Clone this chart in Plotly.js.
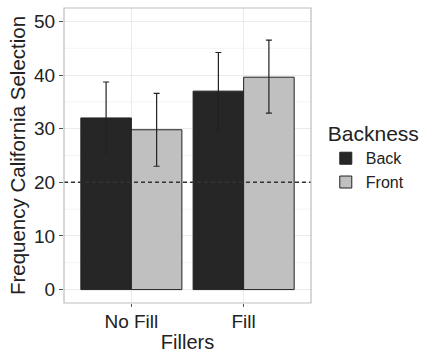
<!DOCTYPE html>
<html><head><meta charset="utf-8">
<script src="https://cdn.plot.ly/plotly-3.0.1.min.js"></script>
<style>html,body{margin:0;padding:0;background:#fff}#chart{width:422px;height:353px}</style>
</head><body><div id="chart"></div>
<script>
const categories = ["No Fill", "Fill"];
const backMeans = [32.0, 37.0];
const backUpper = [38.7, 44.2];
const backLower = [25.4, 29.8];
const frontMeans = [29.8, 39.6];
const frontUpper = [36.6, 46.5];
const frontLower = [23.0, 32.9];
const chanceLevel = 20;
const yTicks = [0, 10, 20, 30, 40, 50];

const font = "Liberation Sans, Arial, sans-serif";
function mkTrace(name, means, up, lo, color) {
  return {
    type: "bar", name: name, x: categories, y: means,
    marker: {color: color, line: {color: "#222", width: 1}},
    error_y: {type: "data", symmetric: false,
      array: means.map((m, i) => up[i] - m),
      arrayminus: means.map((m, i) => m - lo[i]),
      color: "#222", thickness: 1.2, width: 3}
  };
}
const data = [
  mkTrace("Back", backMeans, backUpper, backLower, "#262626"),
  mkTrace("Front", frontMeans, frontUpper, frontLower, "#c0c0c0")
];
const minorVals = [5, 15, 25, 35, 45];
const shapes = minorVals.map(v => ({type: "line", xref: "paper", x0: 0, x1: 1, yref: "y", y0: v, y1: v,
  line: {color: "#f3f3f3", width: 1}, layer: "below"}));
shapes.push({type: "line", xref: "paper", x0: 0, x1: 1, yref: "y", y0: chanceLevel, y1: chanceLevel,
  line: {color: "#333", width: 1.6, dash: "4px,3px"}, layer: "above"});
shapes.push({type: "rect", xref: "paper", yref: "paper", x0: 0, x1: 1, y0: 0, y1: 1,
  line: {color: "#bdbdbd", width: 1.2}});
const layout = {
  width: 422, height: 353,
  margin: {l: 64, r: 111, t: 8, b: 50},
  paper_bgcolor: "#fff", plot_bgcolor: "rgba(0,0,0,0)",
  barmode: "group", bargap: 0.1, bargroupgap: 0,
  font: {family: font, color: "#222", size: 19},
  xaxis: {range: [-0.6, 1.6], showgrid: true, gridcolor: "#ebebeb", zeroline: false,
    ticks: "outside", ticklen: 3, tickcolor: "#555", tickfont: {size: 19, color: "#222"},
    ticklabelstandoff: -2,
    title: {text: "Fillers", font: {size: 20}, standoff: 5}},
  yaxis: {range: [-2.5, 52.5], tickvals: yTicks, showgrid: true, gridcolor: "#ebebeb", zeroline: false,
    ticks: "outside", ticklen: 4, tickcolor: "#555", tickfont: {size: 19, color: "#222"},
    title: {text: "Frequency California Selection", font: {size: 20.5}, standoff: 2}},
  shapes: shapes,
  showlegend: true,
  legend: {xref: "container", yref: "container", x: 0.772, y: 0.677, xanchor: "left", yanchor: "top",
    title: {text: "Backness", font: {size: 21}},
    font: {size: 16}, itemwidth: 30, tracegroupgap: 0, bgcolor: "rgba(0,0,0,0)"}
};
Plotly.newPlot("chart", data, layout, {staticPlot: true});
</script></body></html>
